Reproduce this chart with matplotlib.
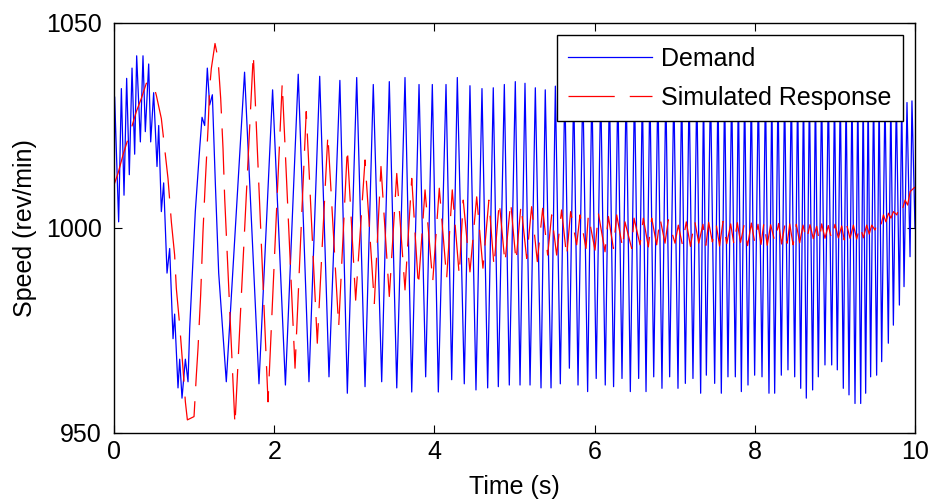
import numpy as np
import matplotlib
matplotlib.use("Agg")
from matplotlib import pyplot as plt

plt.rcParams['font.family'] = ['Liberation Sans', 'DejaVu Sans']
plt.rcParams['font.size'] = 18

# Demand: turning points of the blue trace
# first second and a half, irregular
demand_early_t = [0.000, 0.008, 0.058, 0.092, 0.125, 0.158, 0.191, 0.225, 0.258, 0.283,
                  0.329, 0.362, 0.391, 0.433, 0.458, 0.495, 0.537, 0.558, 0.591, 0.620,
                  0.662, 0.695, 0.737, 0.757, 0.799, 0.820, 0.849, 0.891, 0.924, 0.945,
                  1.015, 1.070, 1.099, 1.132, 1.165, 1.194, 1.228, 1.265, 1.307, 1.361,
                  1.402]
demand_early_v = [996.0, 1032.0, 1001.5, 1034.0, 1008.0, 1036.5, 1013.0, 1039.0, 1018.0, 1042.0,
                  1021.0, 1042.0, 1023.5, 1040.0, 1021.0, 1033.0, 1015.0, 1025.0, 1004.0, 1011.0,
                  989.0, 995.0, 973.0, 979.0, 961.0, 968.0, 958.5, 968.0, 962.5, 975.5,
                  1004.0, 1019.5, 1027.0, 1025.0, 1039.0, 1030.0, 1032.5, 1011.0, 989.0, 974.0,
                  962.5]

# steady oscillation: peaks (hidden under the legend between ~5.6 s and ~9.85 s)
demand_peak_t = [1.630, 1.980, 2.300, 2.568, 2.820, 3.030, 3.237, 3.437, 3.633, 3.808,
                 3.974, 4.145, 4.286, 4.444, 4.594, 4.735, 4.873, 5.010, 5.131, 5.260,
                 5.384, 5.510, 5.628, 5.739, 5.853, 5.966, 6.076, 6.185, 6.290, 6.394,
                 6.498, 6.596, 6.690, 6.790, 6.889, 6.989, 7.087, 7.180, 7.276, 7.360,
                 7.447, 7.540, 7.623, 7.711, 7.795, 7.873, 7.956, 8.044, 8.133, 8.212,
                 8.290, 8.372, 8.456, 8.535, 8.608, 8.682, 8.757, 8.834, 8.918, 8.995,
                 9.067, 9.140, 9.213, 9.286, 9.353, 9.415, 9.483, 9.552, 9.625, 9.698,
                 9.767, 9.834, 9.900, 9.962]
demand_peak_v = [1038.0, 1033.7, 1037.5, 1037.0, 1036.0, 1036.7, 1035.0, 1035.7, 1036.7, 1035.0,
                 1035.0, 1035.0, 1036.7, 1034.7, 1034.0, 1034.2, 1035.0, 1035.7, 1035.3, 1034.2,
                 1033.7, 1034.6, 1035.0, 1034.5, 1035.5, 1035.0, 1034.8, 1035.2, 1034.6, 1035.4,
                 1035.0, 1034.7, 1035.3, 1034.9, 1035.1, 1034.6, 1035.2, 1034.8, 1035.0, 1034.5,
                 1035.3, 1034.9, 1035.1, 1034.7, 1035.2, 1034.8, 1035.0, 1034.6, 1035.1, 1034.9,
                 1035.0, 1034.7, 1035.2, 1034.8, 1035.0, 1034.5, 1034.9, 1034.6, 1034.8, 1034.4,
                 1034.6, 1034.3, 1034.5, 1034.0, 1034.2, 1033.8, 1033.6, 1033.2, 1033.0, 1032.6,
                 1032.2, 1031.5, 1030.6, 1031.0]
demand_trough_t = [1.810, 2.140, 2.434, 2.684, 2.913, 3.134, 3.342, 3.530, 3.717, 3.891,
                   4.049, 4.216, 4.373, 4.519, 4.665, 4.798, 4.935, 5.069, 5.194, 5.331,
                   5.456, 5.572, 5.685, 5.793, 5.913, 6.020, 6.133, 6.237, 6.342, 6.446,
                   6.550, 6.642, 6.738, 6.841, 6.937, 7.041, 7.133, 7.228, 7.324, 7.395,
                   7.499, 7.582, 7.665, 7.757, 7.832, 7.915, 7.998, 8.090, 8.177, 8.248,
                   8.331, 8.414, 8.498, 8.573, 8.643, 8.722, 8.793, 8.876, 8.960, 9.030,
                   9.105, 9.176, 9.251, 9.322, 9.384, 9.446, 9.521, 9.584, 9.667, 9.730,
                   9.805, 9.863, 9.938]
demand_trough_v = [962.0, 961.7, 962.5, 963.7, 959.7, 961.3, 962.5, 961.0, 960.0, 963.7,
                   960.0, 963.0, 962.0, 960.5, 961.0, 961.3, 961.7, 961.7, 961.7, 961.0,
                   961.0, 962.0, 965.8, 961.7, 960.1, 963.3, 961.7, 961.3, 963.3, 960.1,
                   963.3, 960.1, 963.7, 960.9, 963.7, 960.9, 962.1, 963.3, 959.7, 964.1,
                   962.1, 959.7, 963.7, 963.7, 960.1, 961.7, 964.1, 963.7, 959.7, 959.7,
                   964.1, 965.4, 963.7, 960.9, 958.5, 960.5, 963.7, 966.6, 966.6, 965.4,
                   960.9, 959.3, 957.2, 957.2, 959.7, 963.7, 964.1, 967.4, 971.9, 976.3,
                   981.2, 985.7, 993.0]
demand_end = (10.0, 1000.0)

# Simulated response: turning points of the red trace
response_t = [0.000, 0.050, 0.112, 0.216, 0.279, 0.341, 0.404, 0.487, 0.528, 0.591,
              0.633, 0.674, 0.716, 0.757, 0.778, 0.820, 0.861, 0.891, 0.916, 0.999,
              1.028, 1.049, 1.082, 1.111, 1.140, 1.174, 1.194, 1.215, 1.261, 1.298,
              1.332, 1.361, 1.382, 1.510, 1.739, 1.923, 2.100, 2.260, 2.400, 2.538,
              2.670, 2.805, 2.913, 3.017, 3.134, 3.250, 3.333, 3.437, 3.530, 3.633,
              3.717, 3.800, 3.883, 3.979, 4.061, 4.153, 4.223, 4.310, 4.360, 4.444,
              4.528, 4.606, 4.680, 4.744, 4.810, 4.881, 4.952, 5.019, 5.081, 5.152,
              5.214, 5.285, 5.352, 5.414, 5.464, 5.526, 5.588, 5.651, 5.701, 5.776,
              5.818, 5.893, 5.922, 6.005, 6.047, 6.130, 6.172, 6.235, 6.276, 6.351,
              6.379, 6.463, 6.492, 6.567, 6.608, 6.671, 6.713, 6.775, 6.817, 6.879,
              6.920, 7.004, 7.045]
response_v = [1010.5, 1013.3, 1017.8, 1024.3, 1028.4, 1031.6, 1035.3, 1035.3, 1032.4, 1026.7,
              1019.4, 1012.1, 1001.5, 993.4, 985.3, 976.3, 965.8, 957.6, 953.2, 954.0,
              964.1, 970.7, 983.7, 999.1, 1011.3, 1024.3, 1034.1, 1038.9, 1045.0, 1041.4,
              1031.6, 1019.4, 1007.2, 952.0, 1042.4, 957.6, 1035.3, 965.8, 1028.4, 971.9,
              1022.7, 975.9, 1019.4, 982.4, 1016.6, 981.6, 1015.0, 983.3, 1013.3, 984.9,
              1012.1, 985.7, 1009.3, 986.9, 1009.7, 987.7, 1009.3, 988.5, 1006.8, 989.3,
              1007.6, 990.2, 1006.8, 990.6, 1006.4, 991.4, 1006.4, 991.8, 1005.6, 992.6,
              1005.2, 991.8, 1004.8, 993.4, 1003.2, 993.4, 1004.4, 993.0, 1004.0, 995.9,
              1003.2, 995.0, 1003.2, 994.6, 1003.6, 994.2, 1002.8, 995.0, 1003.2, 995.0,
              1001.5, 995.0, 1002.4, 995.9, 1002.4, 995.4, 1002.4, 995.9, 1002.4, 996.3,
              1002.0, 996.3, 1000.7]
response_peak_t = [7.145, 7.249, 7.353, 7.424, 7.520, 7.603, 7.699, 7.782, 7.865, 7.957,
                   8.040, 8.115, 8.198, 8.298, 8.373, 8.436, 8.519, 8.602, 8.689, 8.772,
                   8.835, 8.918, 9.001, 9.085, 9.147, 9.231, 9.314, 9.397, 9.460, 9.543,
                   9.606, 9.669, 9.731, 9.815, 9.877, 9.940]
response_peak_v = [1001.5, 1001.8, 1000.9, 1001.4, 1000.7, 1001.6, 1001.0, 1001.3, 1000.6, 1001.2,
                   1000.9, 1001.5, 1000.8, 1001.1, 1000.5, 1001.0, 1000.9, 1000.7, 1000.8, 1000.4,
                   1001.0, 1000.6, 1000.9, 1000.5, 1000.8, 1000.7, 1000.6, 1000.7, 1000.7, 1002.0,
                   1003.2, 1003.6, 1004.0, 1006.0, 1006.8, 1008.9]
response_trough_t = [7.095, 7.197, 7.300, 7.390, 7.470, 7.560, 7.650, 7.740, 7.822, 7.910,
                     8.000, 8.078, 8.155, 8.250, 8.335, 8.405, 8.478, 8.560, 8.645, 8.730,
                     8.805, 8.876, 8.960, 9.043, 9.116, 9.189, 9.272, 9.355, 9.428, 9.500,
                     9.575, 9.637, 9.700, 9.773, 9.846, 9.908]
response_trough_v = [996.0, 995.5, 996.3, 995.8, 996.6, 995.6, 996.2, 995.9, 996.5, 995.7,
                     996.4, 996.0, 995.8, 996.6, 996.1, 996.3, 995.9, 996.4, 997.0, 997.4,
                     996.8, 997.5, 997.2, 997.6, 997.1, 997.5, 997.3, 997.6, 998.5, 999.5,
                     1000.7, 1001.5, 1002.4, 1003.2, 1004.8, 1005.6]
response_end = (10.0, 1010.0)

x_ticks = [0, 2, 4, 6, 8, 10]
y_ticks = [950, 1000, 1050]


def merge(*parts):
    # join (t, v) lists and order them in time
    t = np.concatenate([np.atleast_1d(p[0]) for p in parts])
    v = np.concatenate([np.atleast_1d(p[1]) for p in parts])
    order = np.argsort(t, kind="stable")
    return t[order], v[order]


dt, dv = merge((demand_early_t, demand_early_v), (demand_peak_t, demand_peak_v),
               (demand_trough_t, demand_trough_v), demand_end)
rt, rv = merge((response_t, response_v), (response_peak_t, response_peak_v),
               (response_trough_t, response_trough_v), response_end)

fig = plt.figure(figsize=(9.33, 4.99), dpi=100)
ax = fig.add_axes([114 / 933, 1 - 433 / 499, (915 - 114) / 933, (433 - 23) / 499])

ax.plot(dt, dv, color=(0, 0, 1), lw=0.9, label="Demand")
ax.plot(rt, rv, color=(1, 0, 0), lw=0.9, dashes=(37, 12), label="Simulated Response")

ax.set_xlim(0, 10)
ax.set_ylim(950, 1050)
ax.set_xticks(x_ticks)
ax.set_yticks(y_ticks)
ax.tick_params(direction="in", length=6, width=0.8, top=True, right=True)
ax.tick_params(axis="x", pad=5)
ax.tick_params(axis="y", pad=9)
for s in ax.spines.values():
    s.set_linewidth(1.0)

ax.set_xlabel("Time (s)", labelpad=8)
ax.set_ylabel("Speed (rev/min)", labelpad=6)

leg = ax.legend(loc="upper right", fancybox=False, edgecolor="black", framealpha=1,
                handlelength=3.35, handletextpad=0.35, borderpad=0.45, labelspacing=0.6,
                borderaxespad=0.5)
leg.get_frame().set_linewidth(1.0)

fig.savefig("out.png", dpi=100)
